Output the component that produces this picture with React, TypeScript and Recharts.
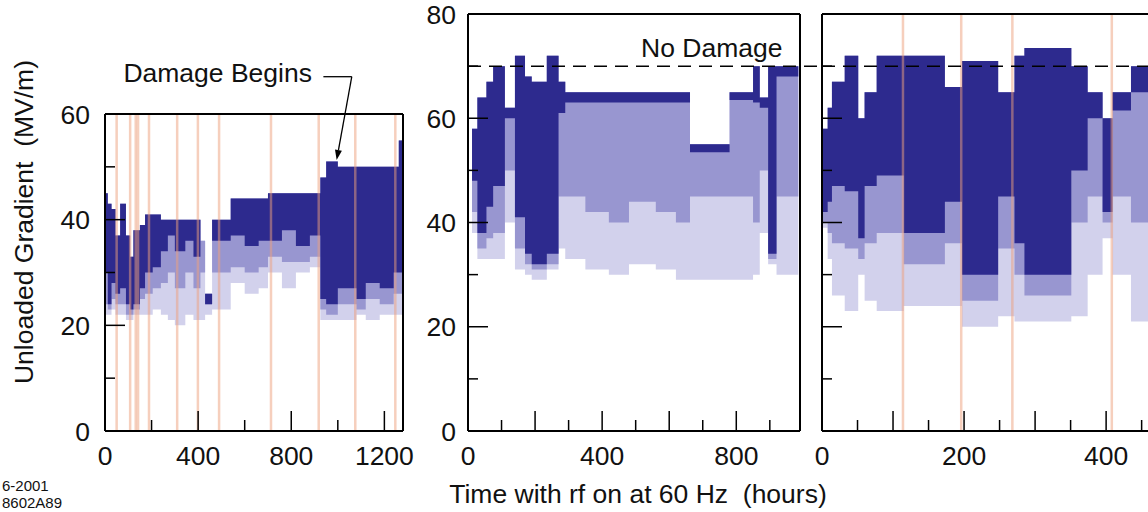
import { Area, ComposedChart, ReferenceDot, ReferenceLine, XAxis, YAxis } from 'recharts';

const FONT = '"Liberation Sans", Arial, Helvetica, sans-serif';
const DARK = '#2d2a8e';
const MID = '#9896d0';
const LIGHT = '#d2d1ec';
const SPARK = '#ee9f7c';

// panel 1: first cavity, 0-1280 h, 0-60 MV/m
const p1Hours = [0, 12, 28, 45, 65, 90, 108, 122, 150, 172, 205, 240, 270, 300, 345, 380, 410, 430, 460, 540, 600, 660, 700, 760, 820, 880, 925, 950, 1000, 1080, 1120, 1180, 1240, 1262, 1280];
const p1Top = [45, 43, 42, 37, 43, 37, 33, 38, 39, 41, 41, 40, 40, 40, 40, 40, 36, 26, 40, 44, 44, 44, 45, 45, 45, 45, 48, 51, 50, 50, 50, 50, 50, 55, 55];
const p1Dark = [30, 24, 28, 26, 27, 24, 23, 24, 27, 30, 31, 34, 37, 34, 36, 33, 36, 24, 36, 37, 35, 36, 36, 38, 35, 37, 25, 24, 27, 25, 28, 27, 30, 30, 30];
const p1Mid = [24, 23, 25, 24, 24, 22, 22, 23, 25, 26, 27, 28, 30, 27, 30, 27, 30, 24, 30, 31, 30, 31, 33, 32, 32, 33, 23, 22, 24, 23, 25, 24, 26, 26, 26];
const p1Light = [22, 22, 23, 22, 22, 21, 21, 22, 22, 22, 23, 22, 21, 20, 22, 21, 21, 22, 23, 28, 26, 27, 30, 27, 30, 31, 21, 21, 21, 22, 21, 22, 22, 22, 22];
const p1Sparks = [50, 108, 132, 142, 189, 310, 399, 490, 713, 918, 1075, 1247];

// panel 2: second cavity, 0-990 h, 0-80 MV/m
const p2Hours = [12, 28, 55, 75, 110, 140, 170, 190, 235, 270, 290, 350, 420, 480, 560, 620, 662, 780, 850, 870, 895, 920, 985];
const p2Top = [58, 64, 67, 70, 62, 72, 68, 67, 72, 67, 65, 65, 65, 65, 65, 65, 55, 65, 70, 64, 70, 70, 70];
const p2Dark = [48, 38, 43, 47, 60, 41, 34, 32, 34, 61, 63, 63, 63, 63, 63, 63, 53.5, 63.5, 63, 62, 34, 68, 68];
const p2Mid = [42, 35, 37, 38, 50, 35, 32, 31, 32, 45, 45, 42, 40, 44, 42, 40, 45, 45, 40, 50, 33, 45, 45];
const p2Light = [38, 33, 33, 33, 40, 31, 30, 29, 31, 35, 33, 31, 30, 32, 31, 29, 29, 29, 30, 38, 32, 30, 30];

// panel 3: third cavity, 0-466 h, 0-80 MV/m
const p3Hours = [0, 8, 14, 32, 51, 60, 77, 115, 173, 197, 248, 271, 285, 351, 374, 395, 409, 435, 466];
const p3Top = [58, 62, 67, 72, 60, 65, 72, 72, 66, 71, 65, 72, 73.5, 70, 65, 60, 65, 70, 70];
const p3Dark = [42, 44, 47, 46, 37, 47, 49, 38, 44, 30, 45, 36, 30, 50, 60, 42, 61.5, 65, 65];
const p3Mid = [40, 38, 36, 35, 33, 36, 38, 32, 36, 25, 35, 30, 26, 40, 45, 40, 45, 40, 40];
const p3Light = [39, 33, 26, 23, 30, 25, 23, 24, 24, 20, 22, 21, 21, 22, 30, 37, 30, 21, 21];
const p3Sparks = [114, 196, 268, 408];

const rows = (hours: number[], top: number[], dark: number[], mid: number[], light: number[]) =>
  hours.map((h, i) => ({ h, dark: [dark[i], top[i]], mid: [mid[i], top[i]], light: [light[i], top[i]] }));

const txt = { fontFamily: FONT, fontSize: 26.5, fill: '#111' };

function BottomTick(props: any) {
  const { x, y, payload, labels, major, dir } = props;
  const v = payload.value;
  const len = major.includes(v) ? 20 : 11;
  return (
    <g>
      <line x1={x} x2={x} y1={y} y2={y + dir * len} stroke="#000" strokeWidth={1.5} />
      {labels.includes(v) && (
        <text x={x} y={y + 34} textAnchor="middle" {...txt}>
          {v}
        </text>
      )}
    </g>
  );
}

function SideTick(props: any) {
  const { x, y, payload, labels, major, dir, gap } = props;
  const v = payload.value;
  const len = major.includes(v) ? 20 : 10;
  return (
    <g>
      <line x1={x} x2={x + dir * len} y1={y} y2={y} stroke="#000" strokeWidth={1.5} />
      {labels.includes(v) && (
        <text x={x - gap} y={y + 9.5} textAnchor="end" {...txt}>
          {v}
        </text>
      )}
    </g>
  );
}

function Arrow(p: any) {
  const { x1, y1, x2, y2 } = p;
  const a = Math.atan2(y2 - y1, x2 - x1);
  const L = 10;
  const W = 3.5;
  const bx = x2 - L * Math.cos(a);
  const by = y2 - L * Math.sin(a);
  return (
    <g>
      <line x1={x1} y1={y1} x2={bx} y2={by} stroke="#000" strokeWidth={1.3} />
      <polygon
        points={`${x2},${y2} ${bx + W * Math.sin(a)},${by - W * Math.cos(a)} ${bx - W * Math.sin(a)},${by + W * Math.cos(a)}`}
        fill="#000"
      />
    </g>
  );
}

function Panel({ data, xMax, yMax, xTicks, xLabels, xMajor, topTicks, yLabels, gap, sparks, margin, width, children }: any) {
  const yTicks = Array.from({ length: yMax / 10 + 1 }, (_, i) => i * 10);
  const yMajor = [20, 40, 60];
  const frame = { stroke: '#000', strokeWidth: 2 };
  return (
    <div style={{ position: 'absolute', left: 0, top: 0 }}>
      <ComposedChart width={width} height={512} data={data} margin={margin}>
        <XAxis
          dataKey="h"
          type="number"
          domain={[0, xMax]}
          ticks={xTicks}
          interval={0}
          height={1}
          tickSize={0}
          tickMargin={0}
          axisLine={frame}
          tickLine={false}
          tick={(p: any) => <BottomTick {...p} labels={xLabels} major={xMajor} dir={-1} />}
        />
        <XAxis
          xAxisId="t"
          orientation="top"
          type="number"
          domain={[0, xMax]}
          ticks={xTicks}
          interval={0}
          height={1}
          tickSize={0}
          tickMargin={0}
          axisLine={frame}
          tickLine={false}
          tick={(p: any) => (topTicks ? <BottomTick {...p} labels={[]} major={xMajor} dir={1} /> : <g />)}
        />
        <YAxis
          type="number"
          domain={[0, yMax]}
          ticks={yTicks}
          interval={0}
          width={1}
          tickSize={0}
          tickMargin={0}
          axisLine={frame}
          tickLine={false}
          tick={(p: any) => <SideTick {...p} labels={yLabels} major={yMajor} dir={1} gap={gap} />}
        />
        <YAxis
          yAxisId="r"
          orientation="right"
          type="number"
          domain={[0, yMax]}
          ticks={yTicks}
          interval={0}
          width={1}
          tickSize={0}
          tickMargin={0}
          axisLine={frame}
          tickLine={false}
          tick={(p: any) => <SideTick {...p} labels={[]} major={yMajor} dir={-1} gap={0} />}
        />
        <Area dataKey="light" type="stepAfter" fill={LIGHT} fillOpacity={1} stroke="none" isAnimationActive={false} dot={false} activeDot={false} />
        <Area dataKey="mid" type="stepAfter" fill={MID} fillOpacity={1} stroke="none" isAnimationActive={false} dot={false} activeDot={false} />
        <Area dataKey="dark" type="stepAfter" fill={DARK} fillOpacity={1} stroke="none" isAnimationActive={false} dot={false} activeDot={false} />
        {sparks.map((s: number) => (
          <ReferenceLine key={s} x={s} stroke={SPARK} strokeOpacity={0.5} strokeWidth={2.5} />
        ))}
        {children}
      </ComposedChart>
    </div>
  );
}

export default function App() {
  return (
    <div
      style={{
        position: 'fixed',
        left: 0,
        top: 0,
        width: 1148,
        height: 512,
        overflow: 'hidden',
        background: '#fff',
        fontFamily: FONT,
      }}
    >
      <Panel
        data={rows(p1Hours, p1Top, p1Dark, p1Mid, p1Light)}
        xMax={1280}
        yMax={60}
        xTicks={[0, 200, 400, 600, 800, 1000, 1200]}
        xLabels={[0, 400, 800, 1200]}
        xMajor={[400, 800, 1200]}
        topTicks={false}
        yLabels={[0, 20, 40, 60]}
        gap={15}
        sparks={p1Sparks}
        width={1148}
        margin={{ left: 104, right: 744, top: 113, bottom: 80 }}
      >
        <ReferenceDot
          x={889}
          y={66.1}
          r={0}
          ifOverflow="visible"
          shape={(p: any) => (
            <text x={p.cx} y={p.cy} textAnchor="end" {...txt}>
              Damage Begins
            </text>
          )}
        />
        <ReferenceLine
          segment={[
            { x: 938, y: 67.06 },
            { x: 1060, y: 67.06 },
          ]}
          ifOverflow="visible"
          stroke="#000"
          strokeWidth={1.3}
        />
        <ReferenceLine
          segment={[
            { x: 1060, y: 67.06 },
            { x: 995, y: 51.3 },
          ]}
          ifOverflow="visible"
          shape={Arrow}
        />
      </Panel>
      <Panel
        data={rows(p2Hours, p2Top, p2Dark, p2Mid, p2Light)}
        xMax={990}
        yMax={80}
        xTicks={[0, 100, 200, 300, 400, 500, 600, 700, 800, 900]}
        xLabels={[0, 400, 800]}
        xMajor={[200, 400, 600, 800]}
        topTicks
        yLabels={[0, 20, 40, 60, 80]}
        gap={12}
        sparks={[]}
        width={1148}
        margin={{ left: 467, right: 347, top: 13, bottom: 80 }}
      >
        <ReferenceLine
          segment={[
            { x: 0, y: 70 },
            { x: 1062, y: 70 },
          ]}
          ifOverflow="visible"
          stroke="#000"
          strokeWidth={1.5}
          strokeDasharray="13 8"
        />
        <ReferenceDot
          x={727}
          y={71.8}
          r={0}
          ifOverflow="visible"
          shape={(p: any) => (
            <text x={p.cx} y={p.cy} textAnchor="middle" {...txt}>
              No Damage
            </text>
          )}
        />
      </Panel>
      <Panel
        data={rows(p3Hours, p3Top, p3Dark, p3Mid, p3Light)}
        xMax={466}
        yMax={80}
        xTicks={[0, 50, 100, 150, 200, 250, 300, 350, 400, 450]}
        xLabels={[0, 200, 400]}
        xMajor={[100, 200, 300, 400]}
        topTicks
        yLabels={[]}
        gap={12}
        sparks={p3Sparks}
        width={1160}
        margin={{ left: 821, right: 6, top: 13, bottom: 80 }}
      >
        <ReferenceLine y={70} stroke="#000" strokeWidth={1.5} strokeDasharray="13 8" />
      </Panel>
      <svg width={1148} height={512} style={{ position: 'absolute', left: 0, top: 0, pointerEvents: 'none' }}>
        <text
          transform="translate(33 222) rotate(-90)"
          textAnchor="middle"
          fontFamily={FONT}
          fontSize={26.5}
          fill="#111"
          style={{ whiteSpace: 'pre' }}
        >
          {'Unloaded Gradient  (MV/m)'}
        </text>
        <text x={638} y={503} textAnchor="middle" fontFamily={FONT} fontSize={26.5} fill="#111" style={{ whiteSpace: 'pre' }}>
          {'Time with rf on at 60 Hz  (hours)'}
        </text>
        <text x={2} y={491} fontFamily={FONT} fontSize={15} fill="#111">
          6-2001
        </text>
        <text x={2} y={508} fontFamily={FONT} fontSize={15} fill="#111">
          8602A89
        </text>
      </svg>
    </div>
  );
}
